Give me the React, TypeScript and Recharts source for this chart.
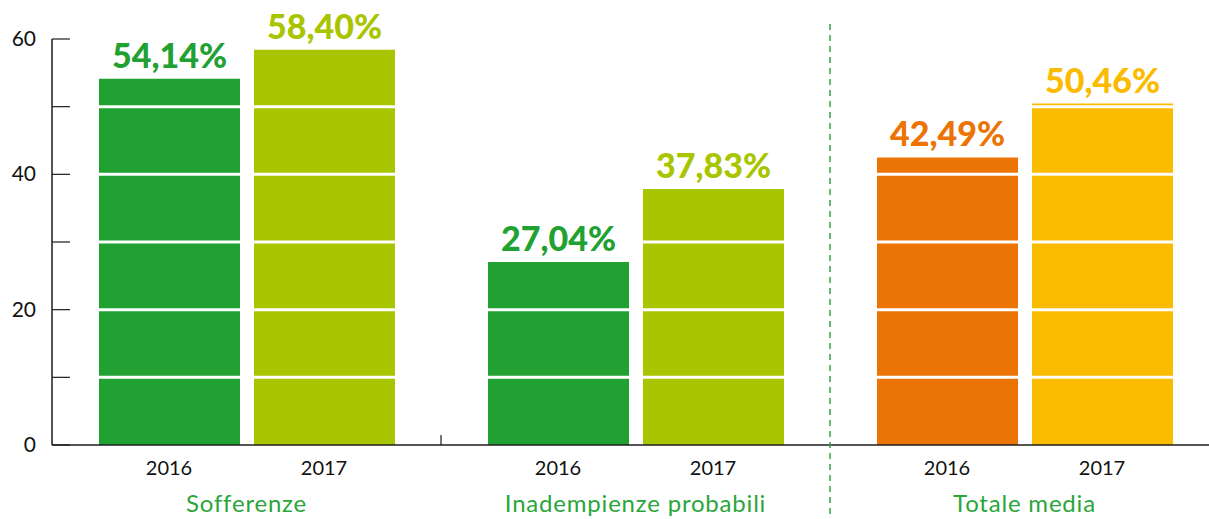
import { BarChart, Bar, XAxis, YAxis, Cell, LabelList, ReferenceLine } from 'recharts';

const categories = ['Sofferenze', 'Inadempienze probabili', 'Totale media'];
const years = ['2016', '2017'];
const values2016 = [54.14, 27.04, 42.49];
const values2017 = [58.4, 37.83, 50.46];
const colors2016 = ['#21a132', '#21a132', '#ec7404'];
const colors2017 = ['#a8c500', '#a8c500', '#fbbb00'];
const yTicks = [0, 10, 20, 30, 40, 50, 60];
const whiteLines = [10, 20, 30, 40, 50];

const data = categories.map((name, i) => ({
  name,
  y2016: values2016[i],
  y2017: values2017[i],
}));

const CHART_W = 1219;
const Y_W = 52;
const BAND = (CHART_W - Y_W) / categories.length;
const BAR = 141;
const GAP = 14;
const axisColor = '#1d1d1d';
const catColor = '#2aa63a';

const fmt = (v: number) => v.toFixed(2).replace('.', ',') + '%';

// value label above each bar, coloured like the bar
const valueLabel = (colors: string[]) => (props: any) => {
  const x = Number(props.x);
  const y = Number(props.y);
  const w = Number(props.width);
  return (
    <text
      x={x + w / 2}
      y={y - 11}
      textAnchor="middle"
      fill={colors[props.index]}
      fontFamily="Lato"
      fontWeight={900}
      fontSize={34}
    >
      {fmt(Number(props.value))}
    </text>
  );
};

const YTick = ({ x, y, payload }: any) => (
  <g>
    <line x1={x} x2={x + 18} y1={y} y2={y} stroke={axisColor} strokeWidth={1.2} />
    {payload.value % 20 === 0 && (
      <text x={x - 16} y={y} dy={7} textAnchor="end" fill="#111" fontFamily="Lato" fontSize={21}>
        {payload.value}
      </text>
    )}
  </g>
);

// years under the bars, group name below, plus the separators between groups
const XTick = ({ x, y, payload, index }: any) => {
  const off = (BAR + GAP) / 2;
  const axisY = y - 8;
  const left = x - BAND / 2;
  return (
    <g>
      {index === 1 && (
        <line x1={left} x2={left} y1={axisY} y2={axisY - 10} stroke={axisColor} strokeWidth={1.2} />
      )}
      {index === 2 && (
        <line
          x1={left}
          x2={left}
          y1={axisY - 421}
          y2={axisY + 74}
          stroke="#2ea644"
          strokeWidth={1.5}
          strokeDasharray="6 5"
        />
      )}
      {years.map((yr, i) => (
        <text
          key={yr}
          x={x + (i === 0 ? -off : off)}
          y={y + 22}
          textAnchor="middle"
          fill="#111"
          fontFamily="Lato"
          fontSize={20}
        >
          {yr}
        </text>
      ))}
      <text
        x={x}
        y={y + 59}
        textAnchor="middle"
        fill={catColor}
        fontFamily="Lato"
        fontSize={24}
        letterSpacing={0.8}
      >
        {payload.value}
      </text>
    </g>
  );
};

export default function App() {
  return (
    <div
      style={{
        position: 'absolute',
        left: 0,
        top: 0,
        width: 1209,
        height: 519,
        overflow: 'hidden',
        background: '#fff',
      }}
    >
      <BarChart
        width={CHART_W}
        height={519}
        data={data}
        barGap={GAP}
        margin={{ top: 39, right: 0, bottom: 0, left: 0 }}
      >
        <XAxis
          dataKey="name"
          height={74}
          tickLine={false}
          axisLine={{ stroke: axisColor, strokeWidth: 1.5 }}
          tick={<XTick />}
          interval={0}
        />
        <XAxis xAxisId="n" type="number" domain={[0, 3]} allowDataOverflow hide />
        <YAxis
          width={Y_W}
          domain={[0, 60]}
          ticks={yTicks}
          interval={0}
          tickSize={0}
          tickMargin={0}
          tickLine={false}
          axisLine={{ stroke: axisColor, strokeWidth: 1.5 }}
          tick={<YTick />}
        />
        <Bar dataKey="y2016" barSize={BAR} isAnimationActive={false}>
          {data.map((_, i) => (
            <Cell key={i} fill={colors2016[i]} />
          ))}
          <LabelList dataKey="y2016" content={valueLabel(colors2016)} />
        </Bar>
        <Bar dataKey="y2017" barSize={BAR} isAnimationActive={false}>
          {data.map((_, i) => (
            <Cell key={i} fill={colors2017[i]} />
          ))}
          <LabelList dataKey="y2017" content={valueLabel(colors2017)} />
        </Bar>
        {whiteLines.map((v) => (
          <ReferenceLine
            key={v}
            xAxisId="n"
            segment={[
              { x: 0.08, y: v },
              { x: 3, y: v },
            ]}
            ifOverflow="visible"
            stroke="#fff"
            strokeWidth={3}
            zIndex={1000}
          />
        ))}
      </BarChart>
    </div>
  );
}
